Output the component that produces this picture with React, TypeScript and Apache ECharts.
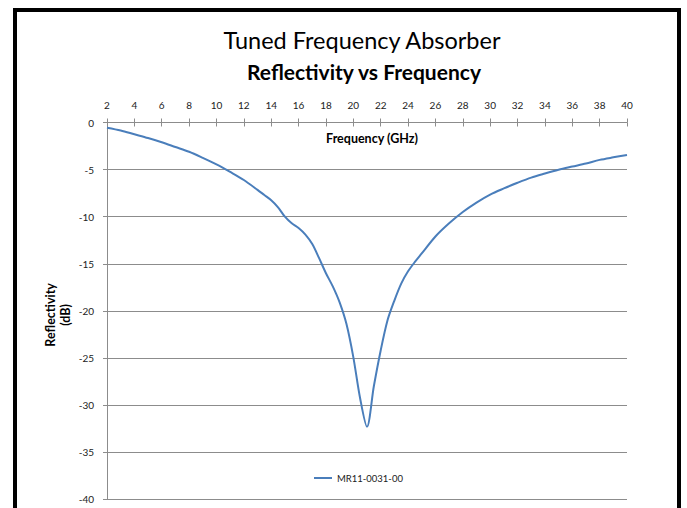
import React, { useEffect, useRef } from "react";
import * as echarts from "echarts";

const frequencies: number[] = [
  2, 3, 4, 5, 6, 7, 8, 9, 10, 11, 12, 13, 13.5, 14, 14.5, 15, 15.5, 16, 16.5, 17, 17.5,
  18, 18.5, 19, 19.5, 20, 20.5, 21, 21.5, 22, 22.5, 23, 23.5, 24, 24.5, 25, 26, 27, 28,
  29, 30, 31, 32, 33, 34, 35, 36, 37, 38, 39, 40,
];
const reflectivity: number[] = [
  -0.55, -0.85, -1.25, -1.65, -2.1, -2.6, -3.1, -3.75, -4.45, -5.25, -6.1, -7.15, -7.7,
  -8.25, -9.0, -10.0, -10.7, -11.2, -11.9, -12.9, -14.4, -16.0, -17.4, -19.1, -21.4,
  -24.9, -29.3, -32.3, -28.0, -24.2, -21.0, -18.9, -17.1, -15.8, -14.8, -13.9, -12.1,
  -10.7, -9.5, -8.5, -7.65, -7.0, -6.4, -5.85, -5.42, -5.02, -4.68, -4.35, -3.97, -3.7, -3.45,
];
const seriesName = "MR11-0031-00";
const titleText = "Tuned Frequency Absorber";
const subtitleText = "Reflectivity vs Frequency";
const xAxisName = "Frequency (GHz)";
const yAxisName = "Reflectivity\n(dB)";

const FONT = "Lato, 'Open Sans', sans-serif";

export default function App() {
  const ref = useRef<HTMLDivElement>(null);
  useEffect(() => {
    if (!ref.current) return;
    const chart = echarts.init(ref.current, undefined, { renderer: "svg" });
    const data = frequencies.map((f, i) => [f, reflectivity[i]]);
    const gray = "#8c8c8c";
    chart.setOption({
      animation: false,
      backgroundColor: "#ffffff",
      textStyle: { fontFamily: FONT },
      title: [
        {
          text: titleText,
          left: 357,
          top: 23,
          textAlign: "center",
          textStyle: { fontFamily: FONT, fontSize: 23.5, fontWeight: "normal", color: "#000" },
        },
        {
          text: subtitleText,
          left: 359,
          top: 56,
          textAlign: "center",
          textStyle: { fontFamily: FONT, fontSize: 21, fontWeight: "bold", color: "#000" },
        },
      ],
      graphic: [
        {
          type: "rect",
          shape: { x: 15, y: 10, width: 664, height: 600 },
          style: { fill: "none", stroke: "#000", lineWidth: 4 },
          silent: true,
        },
        {
          type: "text",
          x: 372,
          y: 138,
          style: {
            text: xAxisName,
            fontFamily: FONT,
            fontSize: 12.5,
            fontWeight: "bold",
            fill: "#000",
            align: "center",
            verticalAlign: "middle",
          },
          silent: true,
        },
      ],
      legend: {
        data: [{ name: seriesName, icon: "rect" }],
        left: 309,
        top: 468,
        itemWidth: 18,
        itemHeight: 2,
        itemGap: 5,
        textStyle: { fontFamily: FONT, fontSize: 9.5, color: "#222" },
      },
      grid: { left: 107, right: 60, top: 122.5, bottom: 8.7, containLabel: false },
      xAxis: [
        {
          type: "value",
          position: "top",
          min: 2,
          max: 40,
          interval: 2,
          axisLine: { show: true, onZero: false, lineStyle: { color: gray, width: 1 } },
          axisTick: { show: true, inside: false, length: 4, lineStyle: { color: gray } },
          axisLabel: { fontFamily: FONT, fontSize: 10, color: "#222", margin: 13 },
          splitLine: { show: false },
        },
        {
          type: "value",
          position: "top",
          min: 2,
          max: 40,
          interval: 2,
          axisLine: { show: false, onZero: false },
          axisTick: { show: true, inside: true, length: 4, lineStyle: { color: gray } },
          axisLabel: { show: false },
          splitLine: { show: false },
        },
      ],
      yAxis: {
        type: "value",
        min: -40,
        max: 0,
        interval: 5,
        axisLine: { show: true, onZero: false, lineStyle: { color: gray, width: 1 } },
        axisTick: { show: true, inside: false, length: 4, lineStyle: { color: gray } },
        axisLabel: { fontFamily: FONT, fontSize: 10, color: "#222", margin: 13 },
        splitLine: { show: true, lineStyle: { color: gray, width: 1 } },
        name: yAxisName,
        nameLocation: "middle",
        nameRotate: 90,
        nameGap: 34,
        nameMoveOverlap: false,
        nameTextStyle: {
          fontFamily: FONT,
          fontSize: 12.5,
          fontWeight: "bold",
          color: "#000",
          lineHeight: 15,
          align: "center",
          padding: [0, 8, 0, 0],
        },
      },
      series: [
        {
          name: seriesName,
          type: "line",
          data,
          smooth: 0.3,
          symbol: "none",
          lineStyle: { color: "#4a7ebb", width: 2 },
          itemStyle: { color: "#4a7ebb" },
        },
      ],
    });
    return () => chart.dispose();
  }, []);
  return (
    <div
      ref={ref}
      style={{ position: "absolute", left: 0, top: 0, width: 687, height: 508 }}
    />
  );
}
